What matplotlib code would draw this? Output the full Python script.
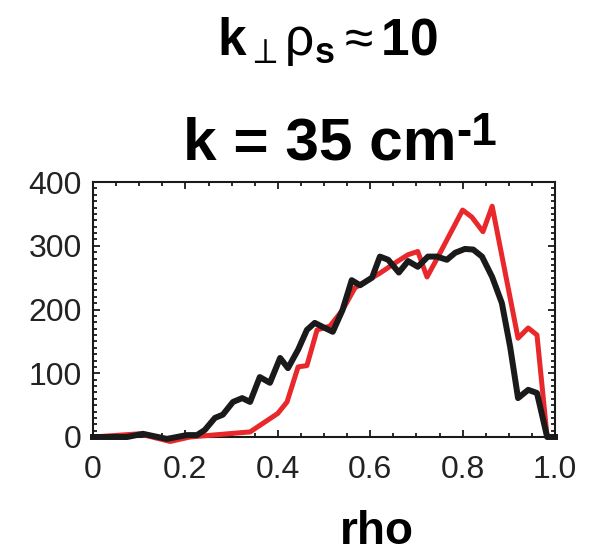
import matplotlib
matplotlib.use('Agg')
import matplotlib.pyplot as plt
from matplotlib.ticker import MultipleLocator

plt.rcParams['font.family'] = ['Liberation Sans', 'DejaVu Sans']
plt.rcParams['mathtext.fontset'] = 'custom'
plt.rcParams['mathtext.rm'] = 'Liberation Sans'
plt.rcParams['mathtext.bf'] = 'Liberation Sans:bold'
plt.rcParams['mathtext.it'] = 'Liberation Sans:italic'

# red curve
rho_red = [0.0, 0.10, 0.167, 0.21, 0.34, 0.40, 0.42, 0.444, 0.463, 0.485, 0.513,
           0.54, 0.567, 0.595, 0.621, 0.658, 0.682, 0.703, 0.723, 0.747, 0.80,
           0.82, 0.844, 0.864, 0.92, 0.942, 0.961, 0.983, 1.0]
val_red = [0, 5, -7, 0, 8, 37, 55, 110, 112, 168, 174,
           199, 234, 246, 257, 275, 286, 291, 251, 283, 356,
           345, 322, 362, 155, 171, 160, 0, 0]

# black curve
rho_blk = [0.0, 0.074, 0.108, 0.16, 0.203, 0.225, 0.242, 0.264, 0.281, 0.303, 0.323,
           0.34, 0.361, 0.383, 0.405, 0.422, 0.444, 0.463, 0.48, 0.502, 0.519,
           0.54, 0.56, 0.578, 0.604, 0.621, 0.639, 0.662, 0.682, 0.703, 0.725,
           0.744, 0.766, 0.784, 0.805, 0.823, 0.842, 0.864, 0.885, 0.903, 0.92,
           0.942, 0.961, 0.983, 1.0]
val_blk = [0, 0, 5, -3, 3, 3, 11, 30, 35, 55, 61,
           55, 94, 85, 124, 108, 137, 168, 179, 171, 165,
           199, 246, 238, 250, 283, 278, 258, 276, 267, 283,
           283, 278, 289, 295, 294, 283, 251, 210, 141, 61,
           74, 69, 0, 0]

xticks = [0, 0.2, 0.4, 0.6, 0.8, 1.0]
xlabels = ['0', '0.2', '0.4', '0.6', '0.8', '1.0']

W, H = 593, 555
fig = plt.figure(figsize=(W / 100, H / 100), dpi=100)
ax = fig.add_axes([93 / W, 1 - 437 / H, 462 / W, 255 / H])

ax.plot(rho_red, val_red, color='#e8282b', lw=3.6, clip_on=False, zorder=3)
ax.plot(rho_blk, val_blk, color='#1a1a1a', lw=4.3, clip_on=False, zorder=4)

ax.set_xlim(0, 1)
ax.set_ylim(0, 400)
ax.set_xticks(xticks)
ax.set_xticklabels(xlabels)
ax.xaxis.set_minor_locator(MultipleLocator(0.05))
ax.yaxis.set_major_locator(MultipleLocator(100))
ax.yaxis.set_minor_locator(MultipleLocator(10))

ax.tick_params(which='both', direction='in', top=True, right=True,
               width=1.3, color='#1a1a1a', labelsize=23, labelcolor='#222222')
ax.tick_params(which='major', length=5)
ax.tick_params(which='minor', length=3)
ax.tick_params(axis='x', pad=13)
ax.tick_params(axis='y', pad=8)
for s in ax.spines.values():
    s.set_linewidth(1.5)
    s.set_color('#1a1a1a')

# x label
fig.text(377 / W, 1 - 544 / H, 'rho', fontsize=33, fontweight='bold',
         ha='center', va='baseline')

# titles
fig.text(217 / W, 1 - 55 / H,
         r'$\mathbf{k}_{\perp}\mathrm{\rho}_{\mathbf{s}}\approx\mathbf{10}$',
         fontsize=37, ha='left', va='baseline')
fig.text(183 / W, 1 - 160 / H, 'k = 35 cm',
         fontsize=43.5, fontweight='bold', ha='left', va='baseline')
fig.text(456 / W, 1 - 145 / H, '-1',
         fontsize=33, fontweight='bold', ha='left', va='baseline')

fig.savefig('out.png', dpi=100)
